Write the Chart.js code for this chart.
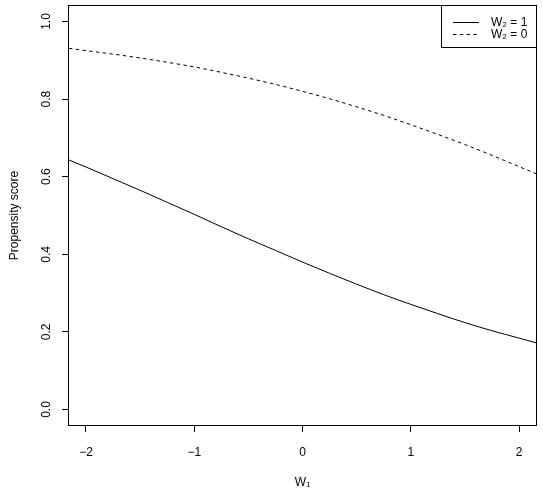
<!DOCTYPE html>
<html>
<head>
<meta charset="utf-8">
<script src="https://cdn.jsdelivr.net/npm/chart.js@4/dist/chart.umd.min.js"></script>
<style>
  html, body { margin: 0; padding: 0; background: #fff; }
  #wrap { width: 543px; height: 493px; }
</style>
</head>
<body>
<div id="wrap"><canvas id="chart" width="543" height="493"></canvas></div>
<script>
// values
const w1Values = [-2.157, -2, -1.75, -1.5, -1.25, -1, -0.75, -0.5, -0.25, 0,
                  0.25, 0.5, 0.75, 1, 1.25, 1.5, 1.75, 2, 2.157];
const scoreW2is1 = [0.643, 0.625, 0.595, 0.565, 0.534, 0.503, 0.471, 0.440, 0.410, 0.380,
                    0.351, 0.323, 0.296, 0.271, 0.247, 0.224, 0.203, 0.184, 0.172];
const scoreW2is0 = [0.931, 0.925, 0.916, 0.906, 0.895, 0.883, 0.869, 0.854, 0.838, 0.820,
                    0.801, 0.780, 0.758, 0.734, 0.709, 0.683, 0.655, 0.626, 0.608];
const xTickValues = [-2, -1, 0, 1, 2];
const yTickValues = [0, 0.2, 0.4, 0.6, 0.8, 1.0];
const seriesLabels = ['W\u2082 = 1', 'W\u2082 = 0'];

const FONT = '"Liberation Sans", Arial, Helvetica, sans-serif';
const INK = '#000';

function toPoints(ys) {
    return w1Values.map((x, i) => ({ x: x, y: ys[i] }));
}

// R style box round the plot region
const frame = {
    id: 'frame',
    afterDatasetsDraw(chart) {
        const a = chart.chartArea;
        const c = chart.ctx;
        c.save();
        c.strokeStyle = INK;
        c.lineWidth = 1;
        c.strokeRect(Math.round(a.left) - 0.5, Math.round(a.top) - 0.5,
                     Math.round(a.right - a.left) + 1, Math.round(a.bottom - a.top) + 1);
        c.restore();
    }
};

// legend box in the top right corner
const boxLegend = {
    id: 'boxLegend',
    afterDraw(chart) {
        const a = chart.chartArea;
        const c = chart.ctx;
        const boxW = 94, boxH = 41;
        const bx = Math.round(a.right) - boxW, by = Math.round(a.top);
        c.save();
        c.strokeStyle = INK;
        c.lineWidth = 1;
        c.strokeRect(bx - 0.5, by - 0.5, boxW + 1, boxH + 1);
        c.font = '12px ' + FONT;
        c.fillStyle = INK;
        c.textBaseline = 'middle';
        c.textAlign = 'left';
        chart.data.datasets.forEach((ds, i) => {
            const ly = by + 16.5 + i * 12;
            c.beginPath();
            c.setLineDash(ds.borderDash || []);
            c.moveTo(bx + 11, ly);
            c.lineTo(bx + 37, ly);
            c.stroke();
            c.setLineDash([]);
            c.fillText(ds.label, bx + 49, ly);
        });
        c.restore();
    }
};

new Chart(document.getElementById('chart'), {
    type: 'line',
    data: {
        datasets: [{
            label: seriesLabels[0],
            data: toPoints(scoreW2is1),
            borderColor: INK,
            borderWidth: 1,
            pointRadius: 0,
            cubicInterpolationMode: 'monotone',
            fill: false
        }, {
            label: seriesLabels[1],
            data: toPoints(scoreW2is0),
            borderColor: INK,
            borderWidth: 1,
            borderDash: [3.4, 3.4],
            pointRadius: 0,
            cubicInterpolationMode: 'monotone',
            fill: false
        }]
    },
    options: {
        responsive: false,
        animation: false,
        devicePixelRatio: 1,
        layout: { padding: { top: 6, right: 7, left: 0, bottom: 0 } },
        plugins: {
            legend: { display: false },
            tooltip: { enabled: false }
        },
        scales: {
            x: {
                type: 'linear',
                min: -2.157,
                max: 2.157,
                afterBuildTicks: (s) => { s.ticks = xTickValues.map(v => ({ value: v })); },
                afterFit: (s) => {
                    s.height = 68;
                    s.paddingLeft = 0;
                    s.paddingRight = 0;
                },
                border: { display: false },
                grid: { drawOnChartArea: false, drawTicks: true, tickLength: 7, color: INK },
                ticks: {
                    padding: 13,
                    color: INK,
                    font: { family: FONT, size: 12 },
                    maxRotation: 0,
                    callback: (v) => String(v).replace('-', '\u2212')
                },
                title: {
                    display: true,
                    text: 'W\u2081',
                    color: INK,
                    font: { family: FONT, size: 12 },
                    padding: { top: 0, bottom: 3 }
                }
            },
            y: {
                min: -0.04,
                max: 1.04,
                afterBuildTicks: (s) => { s.ticks = yTickValues.map(v => ({ value: v })); },
                afterFit: (s) => {
                    s.width = 69;
                    s.paddingTop = 0;
                    s.paddingBottom = 0;
                },
                border: { display: false },
                grid: { drawOnChartArea: false, drawTicks: true, tickLength: 7, color: INK },
                ticks: {
                    padding: 7,
                    color: INK,
                    font: { family: FONT, size: 12 },
                    minRotation: 90,
                    maxRotation: 90,
                    crossAlign: 'center',
                    callback: (v) => Number(v).toFixed(1)
                },
                title: {
                    display: true,
                    text: 'Propensity score',
                    color: INK,
                    font: { family: FONT, size: 12 },
                    padding: { top: 7, bottom: 0 }
                }
            }
        }
    },
    plugins: [frame, boxLegend]
});
</script>
</body>
</html>
